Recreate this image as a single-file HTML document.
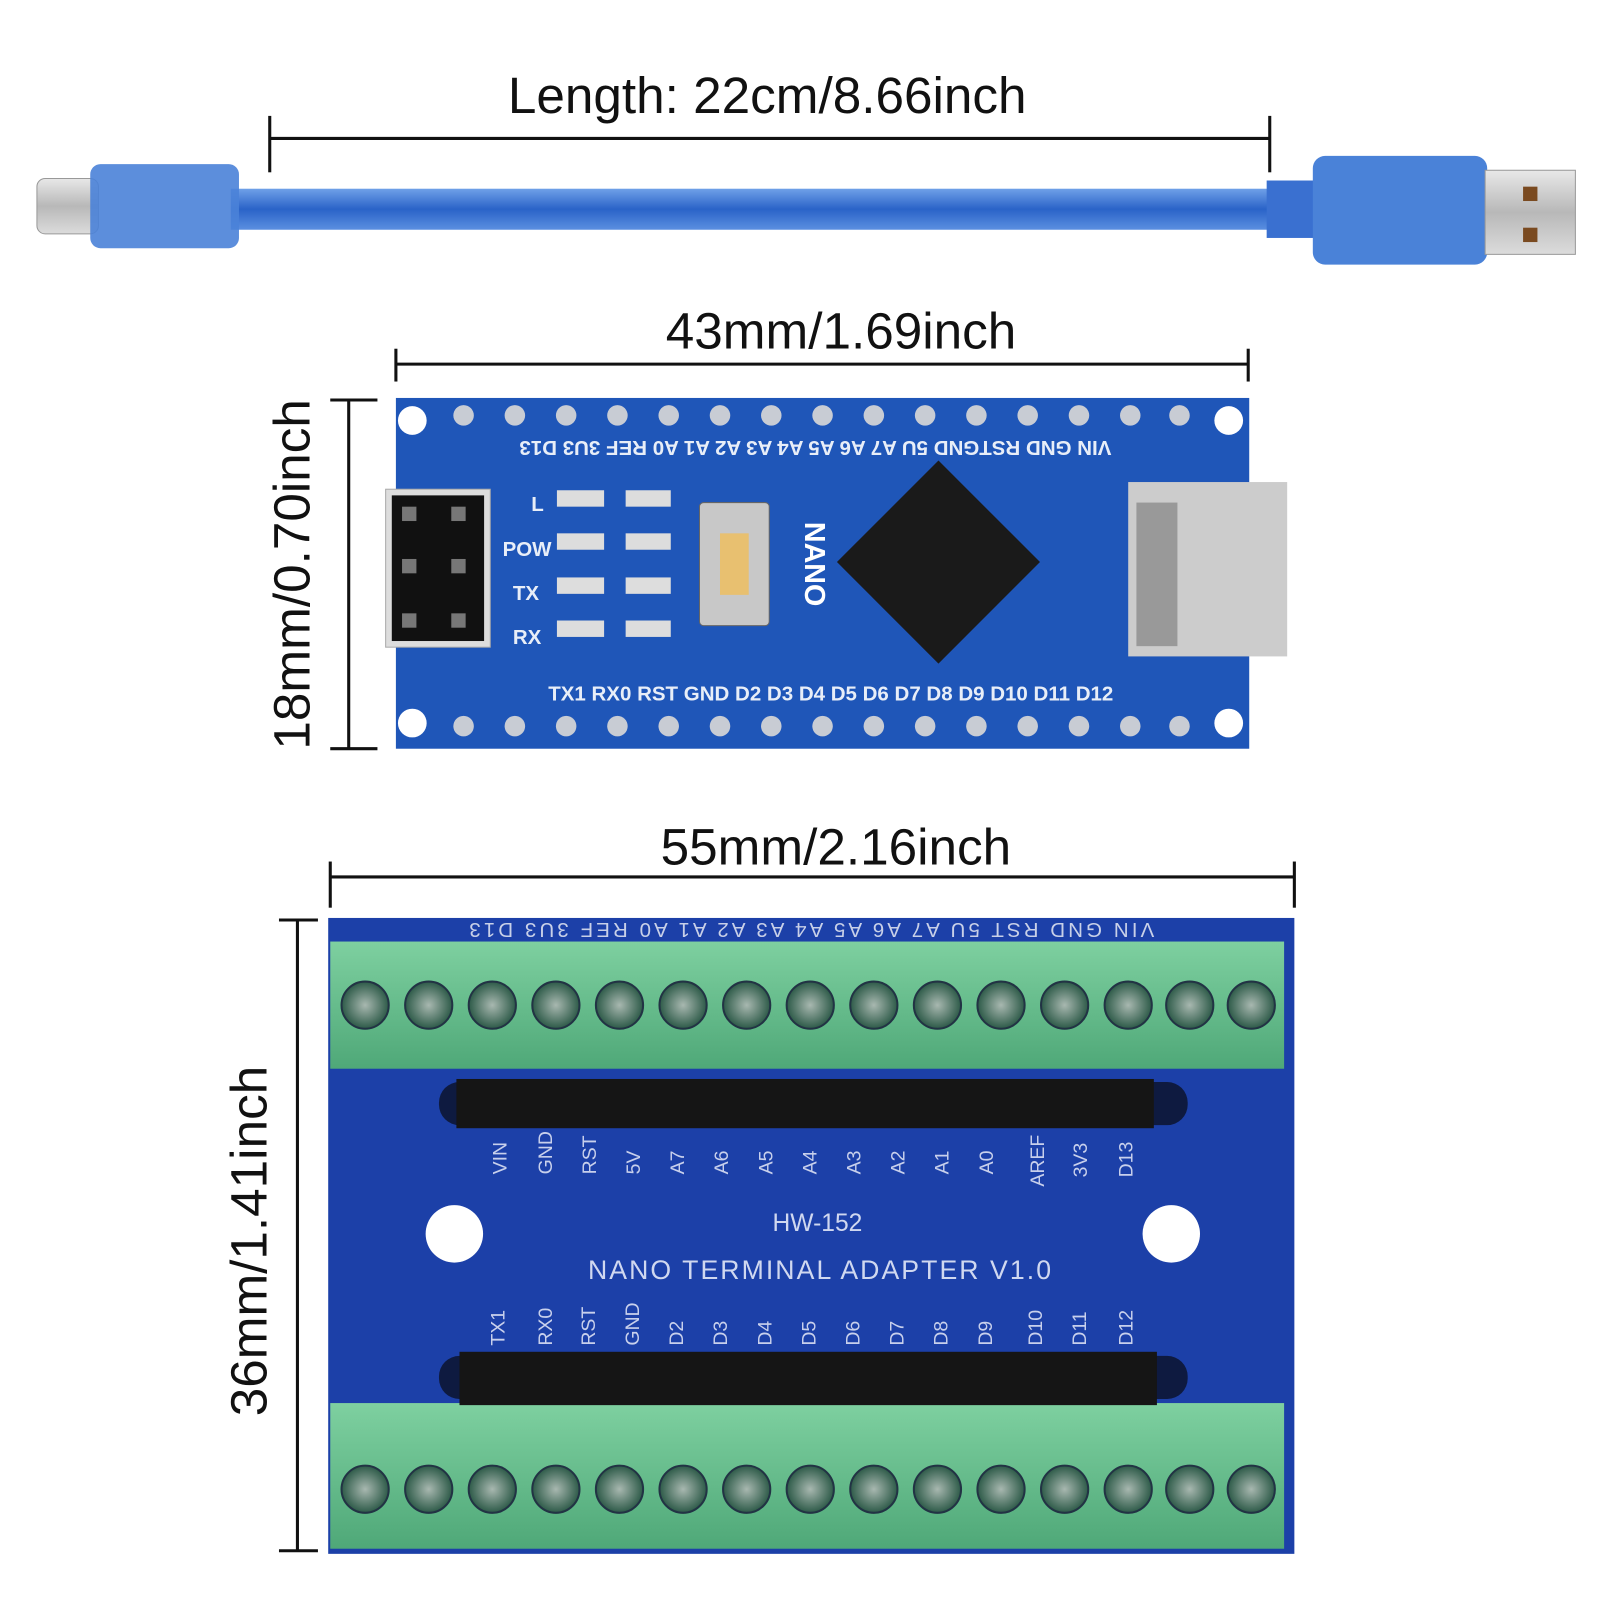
<!DOCTYPE html>
<html><head><meta charset="utf-8"><style>
html,body{margin:0;padding:0;background:#fff}
svg{display:block}
text{font-family:"Liberation Sans","DejaVu Sans",sans-serif}
</style></head><body>
<svg width="1600" height="1600" viewBox="0 0 1560 1560" xmlns="http://www.w3.org/2000/svg">
<defs>
<linearGradient id="cab" x1="0" y1="0" x2="0" y2="1"><stop offset="0" stop-color="#6fa0e8"/><stop offset="0.5" stop-color="#2a63c8"/><stop offset="1" stop-color="#5b8fe0"/></linearGradient>
<linearGradient id="met" x1="0" y1="0" x2="0" y2="1"><stop offset="0" stop-color="#e8e8e8"/><stop offset="0.5" stop-color="#b8b8b8"/><stop offset="1" stop-color="#dcdcdc"/></linearGradient>
<linearGradient id="grn" x1="0" y1="0" x2="0" y2="1"><stop offset="0" stop-color="#7ed0a0"/><stop offset="1" stop-color="#4fa878"/></linearGradient>
<radialGradient id="scr"><stop offset="0" stop-color="#a8b8b0"/><stop offset="1" stop-color="#2d5a48"/></radialGradient>
</defs>
<text x="748" y="110" font-size="50" text-anchor="middle" fill="#111">Length: 22cm/8.66inch</text>
<line x1="263" y1="135" x2="1238" y2="135" stroke="#111" stroke-width="3"/>
<line x1="263" y1="113" x2="263" y2="168" stroke="#111" stroke-width="3"/>
<line x1="1238" y1="113" x2="1238" y2="168" stroke="#111" stroke-width="3"/>
<rect x="225" y="184" width="1020" height="40" fill="url(#cab)"/>
<rect x="36" y="174" width="60" height="54" rx="8" fill="url(#met)" stroke="#999"/>
<rect x="88" y="160" width="145" height="82" rx="10" fill="#4a82d8" opacity="0.9"/>
<rect x="1235" y="176" width="50" height="56" fill="#3a70d0"/>
<rect x="1280" y="152" width="170" height="106" rx="12" fill="#4a82d8"/>
<rect x="1448" y="166" width="88" height="82" fill="url(#met)" stroke="#999"/>
<rect x="1485" y="182" width="14" height="14" fill="#7a4a20"/>
<rect x="1485" y="222" width="14" height="14" fill="#7a4a20"/>
<text x="820" y="340" font-size="50" text-anchor="middle" fill="#111">43mm/1.69inch</text>
<line x1="386" y1="355" x2="1217" y2="355" stroke="#111" stroke-width="3"/>
<line x1="386" y1="340" x2="386" y2="372" stroke="#111" stroke-width="3"/>
<line x1="1217" y1="340" x2="1217" y2="372" stroke="#111" stroke-width="3"/>
<line x1="340" y1="390" x2="340" y2="730" stroke="#111" stroke-width="3"/>
<line x1="322" y1="390" x2="368" y2="390" stroke="#111" stroke-width="3"/>
<line x1="322" y1="730" x2="368" y2="730" stroke="#111" stroke-width="3"/>
<text transform="translate(302,560) rotate(-90)" font-size="50" text-anchor="middle" fill="#111">18mm/0.70inch</text>
<rect x="386" y="388" width="832" height="342" fill="#1f56b8"/>
<circle cx="402" cy="410" r="14" fill="#fff"/><circle cx="1198" cy="410" r="14" fill="#fff"/>
<circle cx="402" cy="705" r="14" fill="#fff"/><circle cx="1198" cy="705" r="14" fill="#fff"/>
<g fill="#c8ccd4">
<circle cx="452" cy="405" r="10"/><circle cx="502" cy="405" r="10"/><circle cx="552" cy="405" r="10"/><circle cx="602" cy="405" r="10"/><circle cx="652" cy="405" r="10"/><circle cx="702" cy="405" r="10"/><circle cx="752" cy="405" r="10"/><circle cx="802" cy="405" r="10"/><circle cx="852" cy="405" r="10"/><circle cx="902" cy="405" r="10"/><circle cx="952" cy="405" r="10"/><circle cx="1002" cy="405" r="10"/><circle cx="1052" cy="405" r="10"/><circle cx="1102" cy="405" r="10"/><circle cx="1150" cy="405" r="10"/>
<circle cx="452" cy="708" r="10"/><circle cx="502" cy="708" r="10"/><circle cx="552" cy="708" r="10"/><circle cx="602" cy="708" r="10"/><circle cx="652" cy="708" r="10"/><circle cx="702" cy="708" r="10"/><circle cx="752" cy="708" r="10"/><circle cx="802" cy="708" r="10"/><circle cx="852" cy="708" r="10"/><circle cx="902" cy="708" r="10"/><circle cx="952" cy="708" r="10"/><circle cx="1002" cy="708" r="10"/><circle cx="1052" cy="708" r="10"/><circle cx="1102" cy="708" r="10"/><circle cx="1150" cy="708" r="10"/>
</g>
<text transform="translate(795,430) rotate(180)" font-size="20" font-weight="bold" text-anchor="middle" fill="#e8eef8">VIN  GND RSTGND  5U  A7  A6  A5  A4  A3  A2  A1  A0 REF 3U3  D13</text>
<text x="810" y="683" font-size="20" font-weight="bold" text-anchor="middle" fill="#e8eef8">TX1 RX0 RST GND D2  D3  D4  D5  D6  D7  D8  D9  D10 D11 D12</text>
<rect x="376" y="477" width="102" height="154" fill="#ddd" stroke="#aaa"/>
<rect x="382" y="483" width="90" height="142" fill="#111"/>
<g fill="#777"><rect x="392" y="494" width="14" height="14"/><rect x="440" y="494" width="14" height="14"/><rect x="392" y="545" width="14" height="14"/><rect x="440" y="545" width="14" height="14"/><rect x="392" y="598" width="14" height="14"/><rect x="440" y="598" width="14" height="14"/></g>
<g fill="#e8eef8" font-size="20" font-weight="bold"><text x="518" y="498">L</text><text x="490" y="542">POW</text><text x="500" y="585">TX</text><text x="500" y="628">RX</text></g>
<rect x="682" y="490" width="68" height="120" rx="4" fill="#c8c8c8" stroke="#666"/>
<rect x="702" y="520" width="28" height="60" fill="#e8c070"/>
<rect x="845" y="478" width="140" height="140" fill="#1a1a1a" transform="rotate(45 915 548)"/>
<rect x="1100" y="470" width="155" height="170" fill="#ccc"/>
<rect x="1108" y="490" width="40" height="140" fill="#999"/>
<text transform="translate(785,550) rotate(90)" font-size="28" font-weight="bold" text-anchor="middle" fill="#fff">NANO</text>
<g fill="#ddd"><rect x="543" y="478" width="46" height="16"/><rect x="543" y="520" width="46" height="16"/><rect x="543" y="563" width="46" height="16"/><rect x="543" y="605" width="46" height="16"/>
<rect x="610" y="478" width="44" height="16"/><rect x="610" y="520" width="44" height="16"/><rect x="610" y="563" width="44" height="16"/><rect x="610" y="605" width="44" height="16"/></g>
<text x="815" y="843" font-size="50" text-anchor="middle" fill="#111">55mm/2.16inch</text>
<line x1="322" y1="855" x2="1262" y2="855" stroke="#111" stroke-width="3"/>
<line x1="322" y1="840" x2="322" y2="885" stroke="#111" stroke-width="3"/>
<line x1="1262" y1="840" x2="1262" y2="885" stroke="#111" stroke-width="3"/>
<line x1="290" y1="897" x2="290" y2="1512" stroke="#111" stroke-width="3"/>
<line x1="272" y1="897" x2="310" y2="897" stroke="#111" stroke-width="3"/>
<line x1="272" y1="1512" x2="310" y2="1512" stroke="#111" stroke-width="3"/>
<text transform="translate(260,1210) rotate(-90)" font-size="50" text-anchor="middle" fill="#111">36mm/1.41inch</text>
<rect x="320" y="895" width="942" height="620" fill="#1c40a8"/>
<text transform="translate(790,900) rotate(180)" font-size="20" text-anchor="middle" fill="#c8d0e8" letter-spacing="3">VIN GND RST  5U  A7  A6  A5  A4  A3  A2  A1  A0 REF 3U3 D13</text>
<rect x="322" y="918" width="930" height="124" fill="url(#grn)"/>
<rect x="322" y="1368" width="930" height="142" fill="url(#grn)"/>
<g fill="url(#scr)" stroke="#234" stroke-width="2">
<circle cx="356" cy="980" r="23"/><circle cx="418" cy="980" r="23"/><circle cx="480" cy="980" r="23"/><circle cx="542" cy="980" r="23"/><circle cx="604" cy="980" r="23"/><circle cx="666" cy="980" r="23"/><circle cx="728" cy="980" r="23"/><circle cx="790" cy="980" r="23"/><circle cx="852" cy="980" r="23"/><circle cx="914" cy="980" r="23"/><circle cx="976" cy="980" r="23"/><circle cx="1038" cy="980" r="23"/><circle cx="1100" cy="980" r="23"/><circle cx="1160" cy="980" r="23"/><circle cx="1220" cy="980" r="23"/>
<circle cx="356" cy="1452" r="23"/><circle cx="418" cy="1452" r="23"/><circle cx="480" cy="1452" r="23"/><circle cx="542" cy="1452" r="23"/><circle cx="604" cy="1452" r="23"/><circle cx="666" cy="1452" r="23"/><circle cx="728" cy="1452" r="23"/><circle cx="790" cy="1452" r="23"/><circle cx="852" cy="1452" r="23"/><circle cx="914" cy="1452" r="23"/><circle cx="976" cy="1452" r="23"/><circle cx="1038" cy="1452" r="23"/><circle cx="1100" cy="1452" r="23"/><circle cx="1160" cy="1452" r="23"/><circle cx="1220" cy="1452" r="23"/>
</g>
<rect x="428" y="1055" width="730" height="42" rx="20" fill="#0e1a40"/>
<rect x="445" y="1052" width="680" height="48" fill="#151515"/>
<rect x="428" y="1322" width="730" height="42" rx="20" fill="#0e1a40"/>
<rect x="448" y="1318" width="680" height="52" fill="#151515"/>
<g font-size="19" fill="#c8d0ec">
<text transform="translate(494,1145) rotate(-90)">VIN</text><text transform="translate(538,1145) rotate(-90)">GND</text><text transform="translate(581,1145) rotate(-90)">RST</text><text transform="translate(624,1145) rotate(-90)">5V</text><text transform="translate(667,1145) rotate(-90)">A7</text><text transform="translate(710,1145) rotate(-90)">A6</text><text transform="translate(753,1145) rotate(-90)">A5</text><text transform="translate(796,1145) rotate(-90)">A4</text><text transform="translate(839,1145) rotate(-90)">A3</text><text transform="translate(882,1145) rotate(-90)">A2</text><text transform="translate(925,1145) rotate(-90)">A1</text><text transform="translate(968,1145) rotate(-90)">A0</text><text transform="translate(1018,1157) rotate(-90)">AREF</text><text transform="translate(1060,1148) rotate(-90)">3V3</text><text transform="translate(1104,1148) rotate(-90)">D13</text>
<text transform="translate(492,1312) rotate(-90)">TX1</text><text transform="translate(538,1312) rotate(-90)">RX0</text><text transform="translate(580,1312) rotate(-90)">RST</text><text transform="translate(623,1312) rotate(-90)">GND</text><text transform="translate(666,1312) rotate(-90)">D2</text><text transform="translate(709,1312) rotate(-90)">D3</text><text transform="translate(752,1312) rotate(-90)">D4</text><text transform="translate(795,1312) rotate(-90)">D5</text><text transform="translate(838,1312) rotate(-90)">D6</text><text transform="translate(881,1312) rotate(-90)">D7</text><text transform="translate(924,1312) rotate(-90)">D8</text><text transform="translate(967,1312) rotate(-90)">D9</text><text transform="translate(1016,1312) rotate(-90)">D10</text><text transform="translate(1059,1312) rotate(-90)">D11</text><text transform="translate(1104,1312) rotate(-90)">D12</text>
</g>
<text x="797" y="1200" font-size="24" text-anchor="middle" fill="#d0d8f0">HW-152</text>
<text x="800" y="1247" font-size="26" text-anchor="middle" fill="#d0d8f0" letter-spacing="2">NANO TERMINAL ADAPTER V1.0</text>
<circle cx="443" cy="1203" r="28" fill="#fff"/>
<circle cx="1142" cy="1203" r="28" fill="#fff"/>
</svg>
</body></html>
